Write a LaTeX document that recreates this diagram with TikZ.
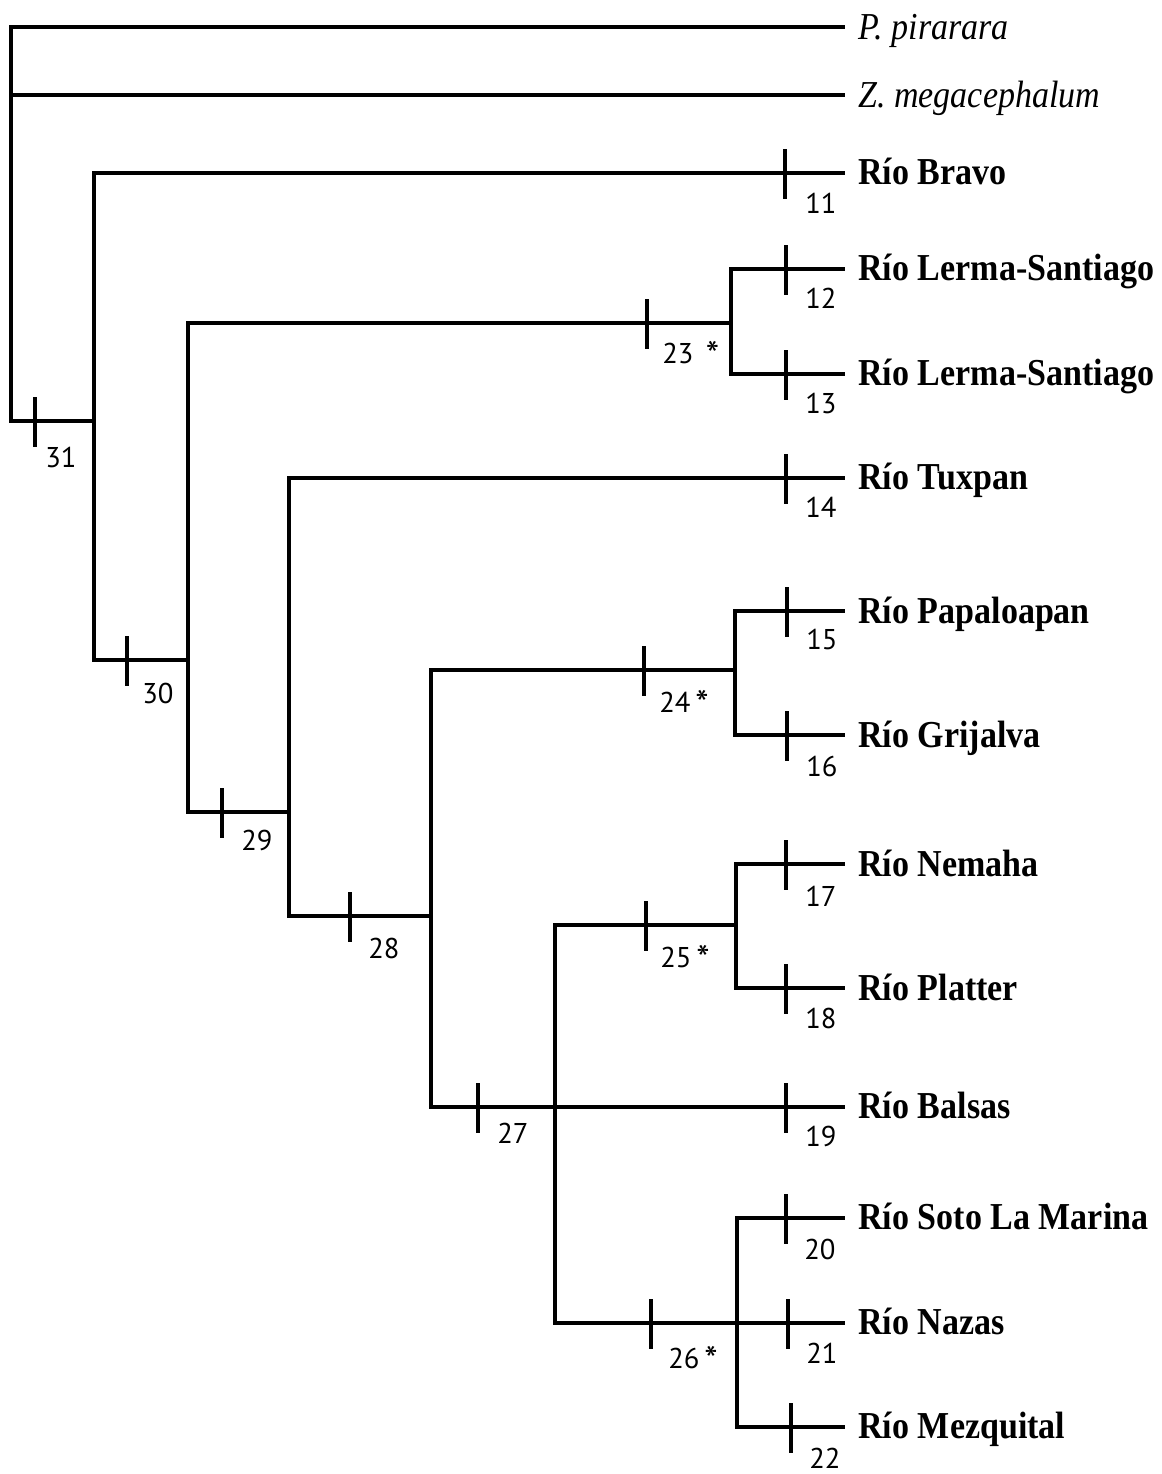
\documentclass[tikz,border=0pt]{standalone}
\usepackage{fontspec}
\setmainfont{Liberation Serif}
\newfontfamily\supfont{PT Sans}
% taller set of the taxon names
\newcommand{\tall}[1]{\scalebox{1}[1.12]{#1}}
% support mark beside a node number
\newcommand{\supmark}{\,\smash{\raisebox{-2.2pt}{\fontsize{19}{19}\selectfont *}}}
\begin{document}
\begin{tikzpicture}[x=0.5pt,y=-0.5pt,
  branch/.style={line width=2pt, line cap=rect},
  synap/.style={line width=2pt},
  taxon/.style={anchor=base west, inner sep=0pt, font=\fontsize{17}{17}\selectfont\bfseries},
  outgroup/.style={anchor=base west, inner sep=0pt, font=\fontsize{17}{17}\selectfont\itshape},
  nodenum/.style={anchor=north west, inner sep=0pt, font=\supfont\fontsize{14.3}{14}\selectfont}]
\fill[white] (0,0) rectangle (1162,1474);
\useasboundingbox (0,0) rectangle (1162,1474);

% internal nodes: x of the vertical bar, y of the incoming branch
\coordinate (R)   at (11,421);
\coordinate (A)   at (94,421);
\coordinate (B)   at (188,660);
\coordinate (D)   at (289,812);
\coordinate (E)   at (431,916);
\coordinate (F)   at (555,1107);
\coordinate (C23) at (731,323);
\coordinate (C24) at (735,670);
\coordinate (C25) at (736,925);
\coordinate (C26) at (737,1323);

% tips
\foreach \n/\y in {P/27, Z/95, 11/173, 12/269, 13/374, 14/478, 15/611, 16/735,
                   17/864, 18/988, 19/1107, 20/1218, 21/1323, 22/1427}
  \coordinate (t\n) at (843,\y);

% taxon names
\node[outgroup] (nP)  at (858,39)   {\tall{P. pirarara}};
\node[outgroup] (nZ)  at (858,107)  {\tall{Z. megacephalum}};
\node[taxon]    (n11) at (858,184)  {\tall{Río Bravo}};
\node[taxon]    (n12) at (858,280)  {\tall{Río Lerma-Santiago}};
\node[taxon]    (n13) at (858,385)  {\tall{Río Lerma-Santiago}};
\node[taxon]    (n14) at (858,489)  {\tall{Río Tuxpan}};
\node[taxon]    (n15) at (858,623)  {\tall{Río Papaloapan}};
\node[taxon]    (n16) at (858,747)  {\tall{Río Grijalva}};
\node[taxon]    (n17) at (858,876)  {\tall{Río Nemaha}};
\node[taxon]    (n18) at (858,1000) {\tall{Río Platter}};
\node[taxon]    (n19) at (858,1118) {\tall{Río Balsas}};
\node[taxon]    (n20) at (858,1229) {\tall{Río Soto La Marina}};
\node[taxon]    (n21) at (858,1334) {\tall{Río Nazas}};
\node[taxon]    (n22) at (858,1438) {\tall{Río Mezquital}};

% branches
\draw[branch] (R) |- (tP);
\draw[branch] (R) |- (tZ);
\draw[branch] (R) -- (A);
\draw[branch] (A) |- (t11);
\draw[branch] (A) |- (B);
\draw[branch] (B) |- (C23);
\draw[branch] (B) |- (D);
\draw[branch] (D) |- (t14);
\draw[branch] (D) |- (E);
\draw[branch] (E) |- (C24);
\draw[branch] (E) |- (F);
\draw[branch] (F) |- (C25);
\draw[branch] (F) -- (t19);
\draw[branch] (F) |- (C26);
\draw[branch] (C23) |- (t12);
\draw[branch] (C23) |- (t13);
\draw[branch] (C24) |- (t15);
\draw[branch] (C24) |- (t16);
\draw[branch] (C25) |- (t17);
\draw[branch] (C25) |- (t18);
\draw[branch] (C26) |- (t20);
\draw[branch] (C26) -- (t21);
\draw[branch] (C26) |- (t22);

% synapomorphy bars and node numbers
\foreach \x/\y/\lx/\ly/\t in {
    35/421/45/447/31, 127/660/142/683/30, 222/812/241/830/29,
    350/916/368/938/28, 478/1107/497/1123/27,
    647/323/662/343/{23\ \supmark}, 644/670/659/692/{24\supmark},
    646/925/660/947/{25\supmark}, 651/1323/668/1348/{26\supmark},
    785/173/805/193/11, 786/269/805/288/12, 786/374/805/393/13,
    786/478/805/497/14, 787/611/806/629/15, 787/735/806/756/16,
    786/864/805/886/17, 786/988/805/1008/18, 786/1107/805/1126/19,
    786/1218/804/1239/20, 788/1323/806/1343/21, 791/1427/809/1448/22}
{
  \draw[synap] (\x,\y-24) -- (\x,\y+26);
  \node[nodenum] (s\x-\y) at (\lx,\ly) {\t};
}
\end{tikzpicture}
\end{document}
